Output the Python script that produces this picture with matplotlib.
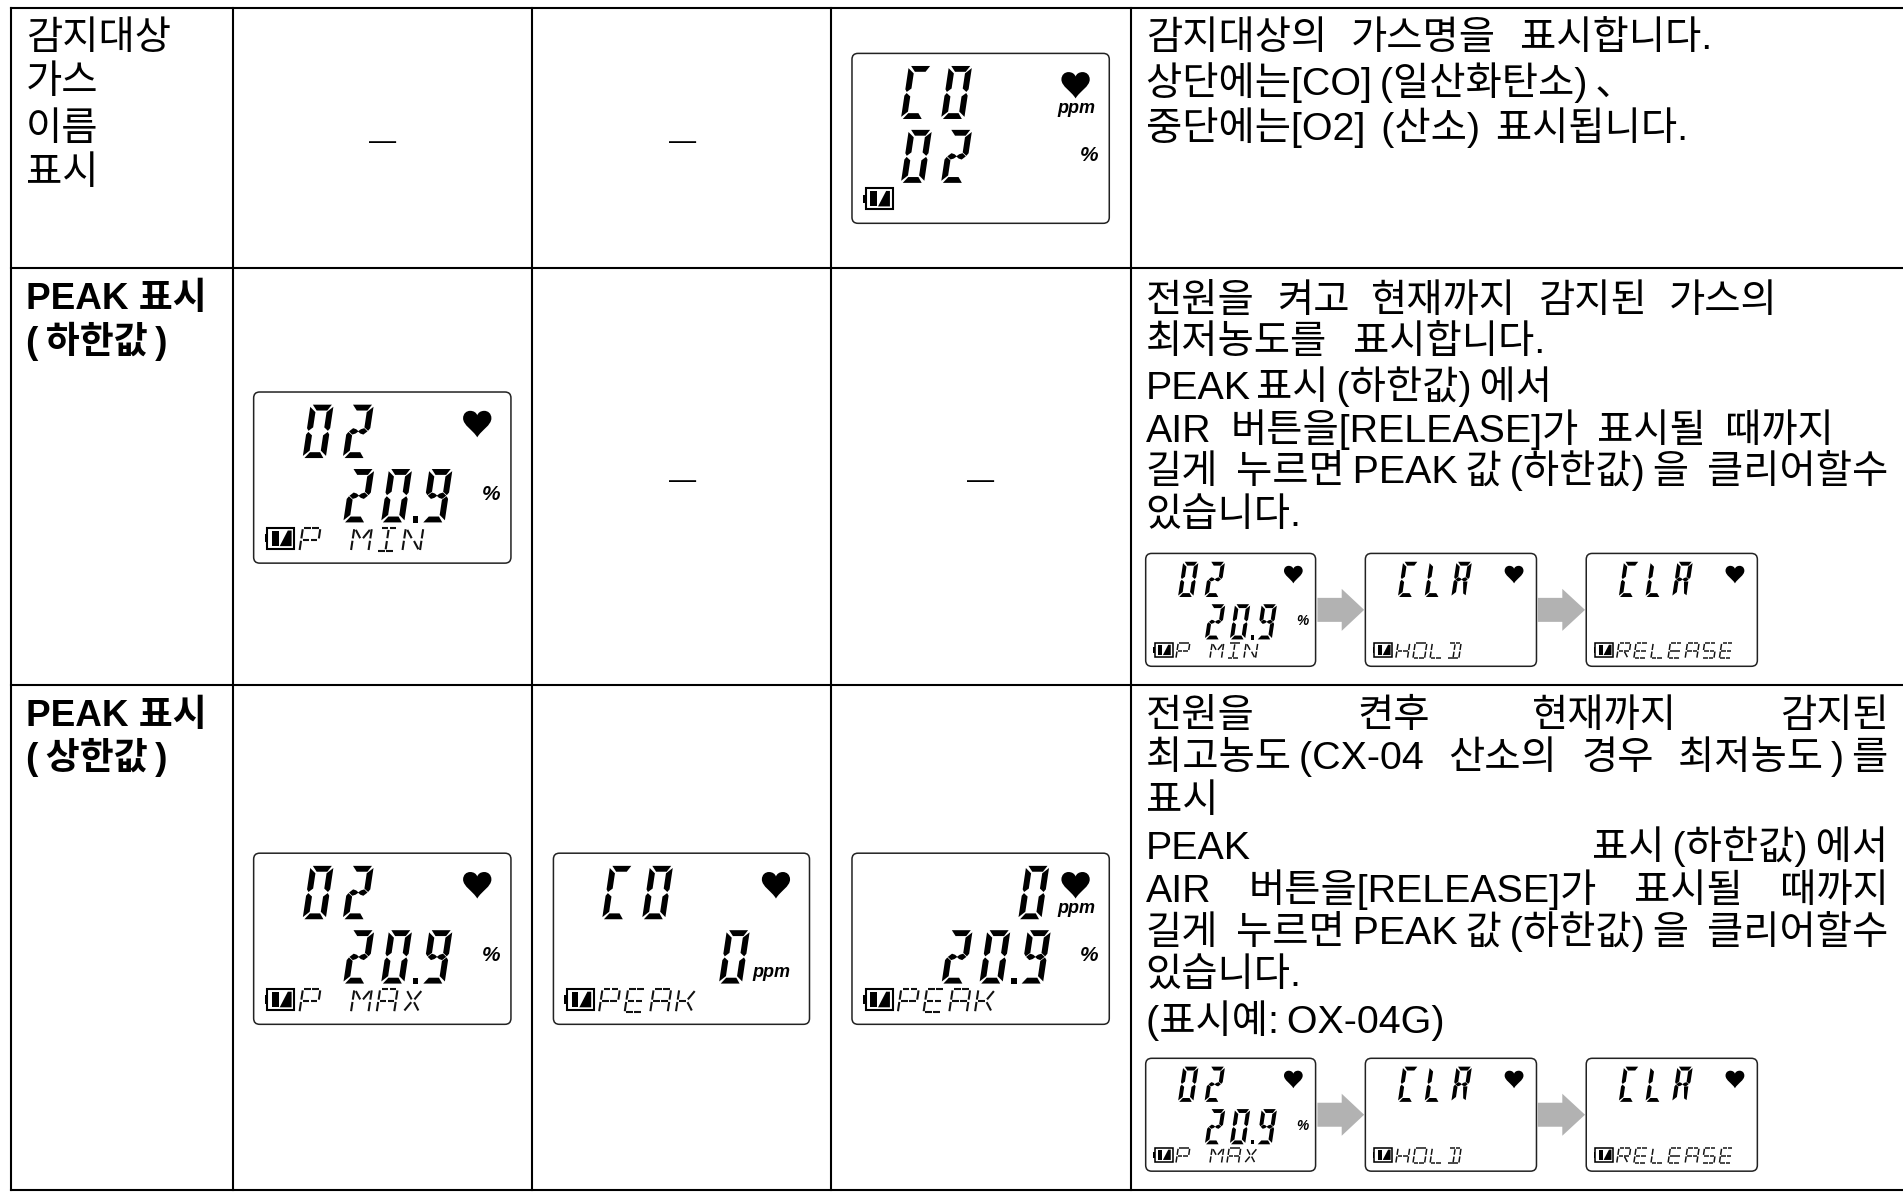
import matplotlib
matplotlib.use("Agg")
import matplotlib.pyplot as plt
from matplotlib.patches import FancyBboxPatch, PathPatch, Polygon, Rectangle
from matplotlib.path import Path
from matplotlib.transforms import Affine2D
from matplotlib.collections import LineCollection

plt.rcParams['font.family'] = ['Liberation Sans', 'Noto Sans CJK KR']

# ---------- content ----------
T = "\u2009"
ROW_TITLES = [["감지대상", "가스", "이름", "표시"],
              ["PEAK 표시", f"({T}하한값{T})"],
              ["PEAK 표시", f"({T}상한값{T})"]]
ROW_BOLD = [False, True, True]

DESC_1 = ["감지대상의 가스명을 표시합니다.",
          f"상단에는[CO]{T}(일산화탄소){T}、",
          f"중단에는[O2]{T}{T}(산소){T}{T}표시됩니다."]
DESC_2 = ["전원을 켜고 현재까지 감지된 가스의",
          "최저농도를 표시합니다.",
          f"PEAK 표시{T}(하한값){T}에서",
          "AIR 버튼을[RELEASE]가 표시될 때까지",
          f"길게 누르면{T}PEAK{T}값{T}(하한값){T}을 클리어할수",
          "있습니다."]
DESC_3 = ["전원을 켠후 현재까지 감지된",
          f"최고농도{T}(CX-04 산소의 경우 최저농도{T}){T}를",
          "표시",
          f"PEAK 표시{T}(하한값){T}에서",
          "AIR 버튼을[RELEASE]가 표시될 때까지",
          f"길게 누르면{T}PEAK{T}값{T}(하한값){T}을 클리어할수",
          "있습니다.",
          f"(표시예:{T}OX-04G)"]

# top text, middle text, label, top unit, middle unit
LCD_CO_NAME = ("CO", "02", "", "ppm", "%")
LCD_MIN = ("02", "20.9", "P MIN", "", "%")
LCD_O2_MAX = ("02", "20.9", "P MAX", "", "%")
LCD_CO_PEAK = ("CO", "0", "PEAK", "", "ppm")
LCD_BOTH_PEAK = ("0", "20.9", "PEAK", "ppm", "%")
LCD_HOLD = ("CLR", "", "HOLD", "", "")
LCD_RELEASE = ("CLR", "", "RELEASE", "", "")
DASH = "—"

# ---------- layout (in reference pixels) ----------
W, H = 1903, 1192
S = 1903 / 1568
COL_X = [9 * S, 192 * S, 438 * S, 685 * S, 932 * S]
ROW_Y = [7 * S, 221 * S, 564.5 * S, 980.5 * S]
FS = 28.4
FS_BOLD = 26.6

fig = plt.figure(figsize=(W / 100, H / 100), dpi=100)
ax = fig.add_axes([0, 0, 1, 1])
ax.set_xlim(0, W)
ax.set_ylim(H, 0)
ax.axis("off")

# grid
for x in COL_X:
    ax.plot([x, x], [ROW_Y[0], ROW_Y[-1]], color="black", lw=1.5, solid_capstyle="projecting")
for y in ROW_Y:
    ax.plot([COL_X[0], W], [y, y], color="black", lw=1.5, solid_capstyle="projecting")

renderer = fig.canvas.get_renderer()


def fit_line(text, x0, x1, base, **kw):
    """Write one line, spreading its words between x0 and x1."""
    words = text.split(" ")
    arts = [ax.text(x0, base, w, fontsize=FS, va="baseline", ha="left", color="black", **kw) for w in words]
    widths = [a.get_window_extent(renderer).width for a in arts]
    if len(words) == 1:
        return
    gap = (x1 - x0 - sum(widths)) / (len(words) - 1)
    gap = max(gap, 5)
    x = x0
    for a, w in zip(arts, widths):
        a.set_x(x)
        x += w + gap


# left column
TITLE_BASE = [[40, 77, 115, 152], [255, 291], [598, 634]]
for lines, bases, bold in zip(ROW_TITLES, TITLE_BASE, ROW_BOLD):
    for line, b in zip(lines, bases):
        ax.text(21.5 * S, b * S, line, fontsize=FS_BOLD if bold else FS, va="baseline", ha="left",
                fontweight="bold" if bold else "normal", color="black")

# description column
DESC_BASES = [[40, 78, 115], [257, 291, 329, 364, 398, 433], [599, 634, 669, 708, 743, 778, 812, 851]]
DESC_ENDS = [[1411, 1343, 1392], [1465, 1273, 1278, 1511, 1556, 1074],
             [1556, 1556, 1002, 1556, 1556, 1556, 1074, 1190]]
for lines, bases, ends in zip([DESC_1, DESC_2, DESC_3], DESC_BASES, DESC_ENDS):
    for line, b, e in zip(lines, bases, ends):
        fit_line(line, 944 * S, e * S, b * S)

# dashes
for col, row_mid in [(315, 123), (562, 123), (562, 402), (808, 402)]:
    ax.text(col * S, row_mid * S, DASH, fontsize=19.5, ha="center", va="baseline", color="black")

SEG = {
    "a": [(.10, 1), (.92, 1), (.76, .89), (.30, .89)],
    "b": [(1, .96), (1, .56), (.92, .51), (.74, .575), (.74, .86)],
    "c": [(1, .44), (1, .04), (.74, .14), (.74, .425), (.92, .49)],
    "d": [(.08, 0), (.90, 0), (.72, .11), (.28, .11)],
    "e": [(0, .04), (0, .44), (.08, .49), (.26, .425), (.26, .14)],
    "f": [(0, .96), (0, .56), (.08, .51), (.26, .575), (.26, .86)],
    "g": [(.10, .5), (.26, .56), (.40, .54), (.5, .505), (.60, .54), (.74, .56), (.90, .5), (.74, .44), (.60, .46),
          (.5, .495), (.40, .46), (.26, .44)],
    "r": [(.62, .44), (.90, .44), (.92, .05), (.74, .10)],
}
CHAR7 = {"0": "abcdef", "O": "abcdef", "2": "abged", "9": "abcdfg", "C": "adef", "L": "def", "R": "abefgr"}

S16 = {
    "a1": ((.08, 1), (.46, 1)), "a2": ((.54, 1), (.92, 1)),
    "b": ((1, .95), (1, .55)), "c": ((1, .45), (1, .05)),
    "d1": ((.08, 0), (.46, 0)), "d2": ((.54, 0), (.92, 0)),
    "e": ((0, .45), (0, .05)), "f": ((0, .95), (0, .55)),
    "g1": ((.08, .5), (.46, .5)), "g2": ((.54, .5), (.92, .5)),
    "h": ((.1, .92), (.42, .56)), "i": ((.5, .92), (.5, .56)), "k": ((.9, .92), (.58, .56)),
    "j": ((.42, .44), (.1, .08)), "l": ((.5, .44), (.5, .08)), "m": ((.58, .44), (.9, .08)),
}
CHAR16 = {
    "P": "a1 a2 f e b g1 g2", "M": "f e b c h k", "I": "a1 a2 d1 d2 i l", "N": "f e b c h m",
    "A": "a1 a2 f e b c g1 g2", "E": "a1 a2 f e g1 g2 d1 d2", "K": "f e g1 k m",
    "S": "a1 a2 f g1 g2 c d1 d2", "L": "f e d1 d2", "H": "f e b c g1 g2",
    "O": "a1 a2 b c d1 d2 e f", "D": "a1 a2 b c d1 d2 i l", "R": "a1 a2 f e b g1 g2 m", "X": "h k j m",
}
C4 = Path.CURVE4
HEART = Path(
    [(0, 1), (-.15, .72), (-.5, .55), (-.5, .28), (-.5, .10), (-.38, 0), (-.25, 0), (-.12, 0), (-.03, .07), (0, .17),
     (.03, .07), (.12, 0), (.25, 0), (.38, 0), (.5, .10), (.5, .28), (.5, .55), (.15, .72), (0, 1), (0, 1)],
    [Path.MOVETO, C4, C4, C4, C4, C4, C4, C4, C4, C4, C4, C4, C4, C4, C4, C4, C4, C4, C4, Path.CLOSEPOLY])
SLANT = 0.15


def seg7(x, ybot, w, h, ch):
    for name in CHAR7[ch]:
        pts = [(x + u * w + v * h * SLANT, ybot - v * h) for u, v in SEG[name]]
        ax.add_patch(Polygon(pts, closed=True, fc="black", ec="none"))


def seg16(x, ybot, w, h, ch, lw):
    lines = []
    for name in CHAR16[ch].split():
        lines.append([(x + u * w + v * h * SLANT, ybot - v * h) for u, v in S16[name]])
    ax.add_collection(LineCollection(lines, colors="#111111", linewidths=lw))


def lcd(x0, x1, y0, y1, content):
    top, mid, label, unit_top, unit_mid = content
    w, h = x1 - x0, y1 - y0
    k = w / 257
    ax.add_patch(FancyBboxPatch((x0 + 5, y0 + 5), w - 10, h - 10, boxstyle="round,pad=5,rounding_size=6",
                                fc="white", ec="#222222", lw=1.1))
    cw, ch, pitch = .09 * w, .312 * h, .156 * w
    # top digits
    tx = .646 * w if top == "0" else .19 * w
    for i, c in enumerate(top):
        seg7(x0 + tx + i * pitch, y0 + .386 * h, cw, ch, c)
    # middle digits
    if mid:
        my = y0 + .762 * h
        if mid == "20.9":
            starts = [.348, .495, .652]
            for c, s in zip("209", starts):
                seg7(x0 + s * w, my, cw, ch, c)
            ax.add_patch(Rectangle((x0 + .618 * w, my - .035 * h), .022 * w, .036 * h, fc="black", ec="none"))
        elif mid == "0":
            seg7(x0 + .646 * w, my, cw, ch, "0")
        else:
            for i, c in enumerate(mid):
                seg7(x0 + .19 * w + i * pitch, my, cw, ch, c)
    # heart
    hw, hh = .11 * w, .155 * h
    hx, hy = x0 + .869 * w, y0 + .11 * h
    ax.add_patch(PathPatch(HEART.transformed(Affine2D().scale(hw, hh).translate(hx, hy)), fc="black", ec="none"))
    # units
    unit_kw = dict(fontweight="bold", fontstyle="italic", color="black", ha="center", va="center",
                   family=["Liberation Sans"])
    if unit_top:
        ax.text(x0 + .874 * w, y0 + .325 * h, unit_top, fontsize=13 * k, **unit_kw)
    if unit_mid == "%":
        ax.text(x0 + .923 * w, y0 + .60 * h, "%", fontsize=15 * k, **unit_kw)
    elif unit_mid == "ppm":
        ax.text(x0 + .85 * w, y0 + .70 * h, "ppm", fontsize=13 * k, **unit_kw)
    # battery
    bx0, bx1, by0, by1 = x0 + .053 * w, x0 + .158 * w, y0 + .795 * h, y0 + .915 * h
    bw, bh = bx1 - bx0, by1 - by0
    ax.add_patch(Rectangle((bx0, by0), bw, bh, fc="white", ec="black", lw=1.5 * max(k, .75)))
    ax.add_patch(Rectangle((bx0 - .1 * bw, by0 + .3 * bh), .1 * bw, .4 * bh, fc="black", ec="none"))
    ax.add_patch(Rectangle((bx0 + .18 * bw, by0 + .12 * bh), .24 * bw, .76 * bh, fc="black", ec="none"))
    ax.add_patch(Polygon([(bx0 + .46 * bw, by0 + .88 * bh), (bx0 + .76 * bw, by0 + .12 * bh),
                          (bx0 + .9 * bw, by0 + .12 * bh), (bx0 + .9 * bw, by0 + .88 * bh)],
                         closed=True, fc="black", ec="none"))
    # label
    lp = .1 * w
    for i, c in enumerate(label):
        if c != " ":
            seg16(x0 + .178 * w + i * lp, y0 + .93 * h, .068 * w, .135 * h, c, 1.5 * max(k, .72))


def arrow(x0, x1, y):
    mid = x0 + .52 * (x1 - x0)
    pts = [(x0, y - 12), (mid, y - 12), (mid, y - 21), (x1, y), (mid, y + 21), (mid, y + 12), (x0, y + 12)]
    ax.add_patch(Polygon(pts, closed=True, fc="#b2b2b2", ec="none"))


BIG = [(702, 914, 44, 184, LCD_CO_NAME), (209, 421, 323, 464, LCD_MIN), (209, 421, 703, 844, LCD_O2_MAX),
       (456, 667, 703, 844, LCD_CO_PEAK), (702, 914, 703, 844, LCD_BOTH_PEAK)]
for a, b, c, d, content in BIG:
    lcd(a * S, b * S, c * S, d * S, content)

SMALL_X = [(944, 1084), (1125, 1266), (1307, 1448)]
for (y0, y1), content in [((456, 549), (LCD_MIN, LCD_HOLD, LCD_RELEASE)), ((872, 965), (LCD_O2_MAX, LCD_HOLD, LCD_RELEASE))]:
    for (a, b), c in zip(SMALL_X, content):
        lcd(a * S, b * S, y0 * S, y1 * S, c)
    arrow(1085.5 * S, 1124 * S, (y0 + y1) / 2 * S)
    arrow(1267 * S, 1306 * S, (y0 + y1) / 2 * S)

fig.savefig("out.png", dpi=100, facecolor="white")
